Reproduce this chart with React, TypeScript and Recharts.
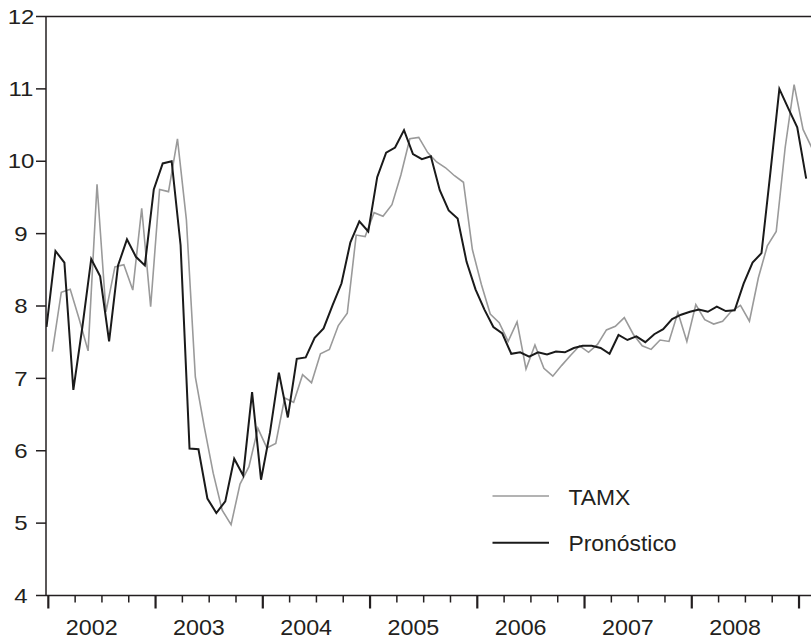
import React from 'react';
import { LineChart, Line, XAxis, YAxis, ReferenceLine, Legend } from 'recharts';

// Monthly TAMX rate (%), observations placed mid-month starting Jan 2002
const tamx = [
  7.37, 8.19, 8.23, 7.82, 7.38, 9.68, 7.92, 8.54, 8.57, 8.22, 9.35, 7.99,
  9.61, 9.58, 10.31, 9.19, 7.02, 6.33, 5.69, 5.18, 4.98, 5.54, 5.78, 6.31,
  6.04, 6.10, 6.73, 6.67, 7.05, 6.94, 7.34, 7.40, 7.73, 7.90, 8.98, 8.96,
  9.29, 9.24, 9.40, 9.81, 10.31, 10.33, 10.12, 9.99, 9.91, 9.80, 9.71, 8.78,
  8.30, 7.89, 7.77, 7.51, 7.78, 7.13, 7.46, 7.14, 7.03, 7.18, 7.32, 7.45,
  7.36, 7.47, 7.67, 7.72, 7.84, 7.61, 7.45, 7.40, 7.53, 7.51, 7.91, 7.51,
  8.02, 7.81, 7.75, 7.79, 7.93, 8.01, 7.79, 8.39, 8.83, 9.03, 10.19, 11.06,
  10.44, 10.18,
];

// One-step forecast (%), observations placed at each month's turn
const pronostico = [
  7.71, 8.76, 8.60, 6.84, 7.70, 8.65, 8.41, 7.51, 8.56, 8.92, 8.68, 8.56,
  9.61, 9.97, 10.00, 8.84, 6.03, 6.02, 5.34, 5.14, 5.30, 5.89, 5.66, 6.81,
  5.60, 6.25, 7.08, 6.46, 7.27, 7.29, 7.56, 7.69, 8.01, 8.31, 8.88, 9.17,
  9.03, 9.78, 10.12, 10.19, 10.43, 10.10, 10.03, 10.07, 9.60, 9.32, 9.21, 8.61,
  8.23, 7.95, 7.71, 7.62, 7.34, 7.36, 7.30, 7.36, 7.33, 7.37, 7.36, 7.42,
  7.45, 7.45, 7.42, 7.34, 7.60, 7.53, 7.58, 7.50, 7.61, 7.68, 7.82, 7.88,
  7.92, 7.95, 7.92, 7.99, 7.93, 7.94, 8.31, 8.60, 8.73, 9.85, 11.00, 10.73,
  10.47, 9.76,
];

// Time is measured in months from 1 Jan 2002
const TAMX_START = 0.45;
const PRONOSTICO_START = -0.2;

const seriesNames = ['TAMX', 'Pronóstico'];
const years = [2002, 2003, 2004, 2005, 2006, 2007, 2008];
const yTicks = [4, 5, 6, 7, 8, 9, 10, 11, 12];
const X_DOMAIN: [number, number] = [-0.26, 85.34];

const tamxData = tamx.map((v, i) => ({ t: TAMX_START + i, v }));
const pronosticoData = pronostico.map((v, i) => ({ t: PRONOSTICO_START + i, v }));

// quarter marks through the start of 2009
const quarterTicks = Array.from({ length: 29 }, (_, i) => i * 3);
// year captions sit a little before mid-year
const yearLabelTicks = years.map((_, i) => i * 12 + 4.85);

const INK = '#231f20';
const FONT = '"Liberation Sans", Arial, Helvetica, sans-serif';

const QuarterMark = (props: any) => {
  const { x, y, payload } = props;
  const major = payload.value % 12 === 0;
  return (
    <line
      x1={x}
      x2={x}
      y1={y}
      y2={y + (major ? 13 : 7)}
      stroke={INK}
      strokeWidth={major ? 2.2 : 1.5}
    />
  );
};

const YearLabel = (props: any) => {
  const { x, y, payload } = props;
  const year = years[0] + Math.floor(payload.value / 12);
  return (
    <text
      transform={`translate(${x},${y + 38.5}) scale(1.06,1)`}
      textAnchor="middle"
      fontFamily={FONT}
      fontSize={22}
      fill={INK}
    >
      {year}
    </text>
  );
};

const ValueLabel = (props: any) => {
  const { x, y, payload } = props;
  return (
    <text
      transform={`translate(${x - 13},${y + 7.2}) scale(1.2,1)`}
      textAnchor="middle"
      fontFamily={FONT}
      fontSize={20}
      fill={INK}
    >
      {payload.value}
    </text>
  );
};

const LegendBox = (props: any) => {
  const items = [...(props.payload || [])].sort(
    (a: any, b: any) => seriesNames.indexOf(a.value) - seriesNames.indexOf(b.value)
  );
  return (
    <svg width={220} height={100} style={{ display: 'block' }}>
      {items.map((item: any, i: number) => (
        <g key={item.value} transform={`translate(0,${i * 46.7})`}>
          <line
            x1={12.5}
            x2={69}
            y1={26}
            y2={26}
            stroke={item.color}
            strokeWidth={i === 0 ? 1.6 : 2}
          />
          <text
            transform="translate(88.5,34.5) scale(1.04,1)"
            fontFamily={FONT}
            fontSize={22}
            fill={INK}
          >
            {item.value}
          </text>
        </g>
      ))}
    </svg>
  );
};

export default function App() {
  return (
    <div style={{ position: 'absolute', left: 0, top: 0, background: '#fff' }}>
      <LineChart
        width={811}
        height={640}
        margin={{ top: 16.5, right: 0, bottom: 0, left: 0 }}
      >
        <XAxis
          xAxisId="main"
          type="number"
          dataKey="t"
          domain={X_DOMAIN}
          allowDataOverflow
          ticks={quarterTicks}
          interval={0}
          tickLine={false}
          tickSize={0}
          tickMargin={0}
          tick={<QuarterMark />}
          axisLine={{ stroke: INK, strokeWidth: 1.5 }}
          height={1}
        />
        <XAxis
          xAxisId="years"
          type="number"
          dataKey="t"
          domain={X_DOMAIN}
          allowDataOverflow
          ticks={yearLabelTicks}
          interval={0}
          tickLine={false}
          tickSize={0}
          tickMargin={0}
          tick={<YearLabel />}
          axisLine={false}
          height={43.5}
        />
        <YAxis
          type="number"
          domain={[4, 12]}
          ticks={yTicks}
          interval={0}
          allowDataOverflow
          width={46}
          tickSize={10}
          tickLine={{ stroke: INK, strokeWidth: 1.5 }}
          axisLine={{ stroke: INK, strokeWidth: 1.5 }}
          tick={<ValueLabel />}
        />
        <ReferenceLine xAxisId="main" y={12} stroke={INK} strokeWidth={1.5} />
        <Line
          xAxisId="main"
          data={tamxData}
          dataKey="v"
          name="TAMX"
          type="linear"
          stroke="#9a9a9a"
          strokeWidth={1.6}
          dot={false}
          isAnimationActive={false}
        />
        <Line
          xAxisId="main"
          data={pronosticoData}
          dataKey="v"
          name="Pronóstico"
          type="linear"
          stroke="#1a1a1a"
          strokeWidth={2}
          dot={false}
          isAnimationActive={false}
        />
        <Legend
          layout="horizontal"
          verticalAlign="middle"
          align="center"
          wrapperStyle={{ left: 480, top: 470, width: 220, height: 100 }}
          content={<LegendBox />}
        />
      </LineChart>
    </div>
  );
}
